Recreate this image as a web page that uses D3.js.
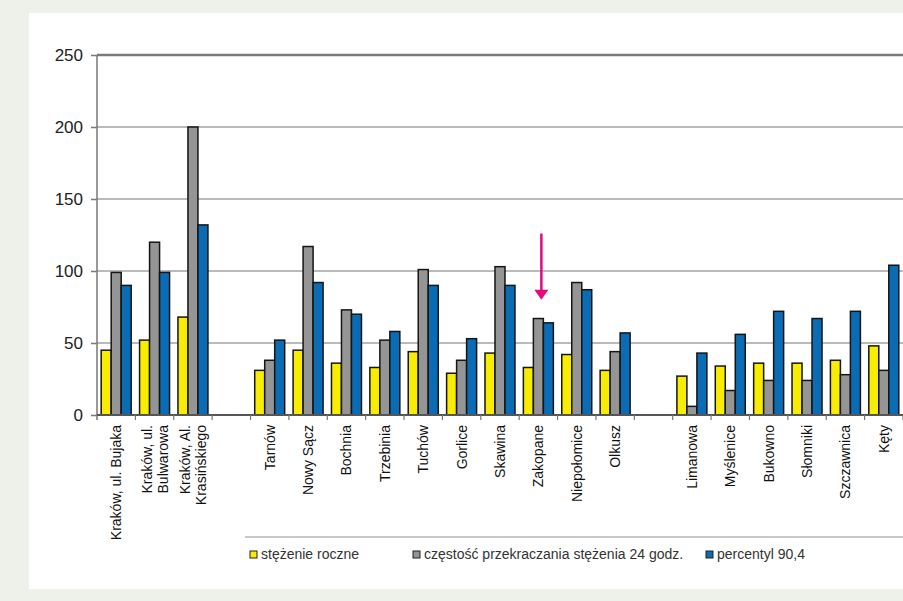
<!DOCTYPE html>
<html>
<head>
<meta charset="utf-8">
<script src="https://cdn.jsdelivr.net/npm/d3@7"></script>
<style>
  body { margin: 0; background: #eef0ea; }
  text { font-family: "Liberation Sans", Arial, sans-serif; }
</style>
</head>
<body>
<div id="chart"></div>
<script>
// stations, "" = empty slot between groups
var stations = ["Kraków, ul. Bujaka", "Kraków, ul.|Bulwarowa", "Kraków, Al.|Krasińskiego", "",
  "Tarnów", "Nowy Sącz", "Bochnia", "Trzebinia", "Tuchów", "Gorlice", "Skawina", "Zakopane",
  "Niepołomice", "Olkusz", "",
  "Limanowa", "Myślenice", "Bukowno", "Słomniki", "Szczawnica", "Kęty"];

var stezenieRoczne = [45, 52, 68, null, 31, 45, 36, 33, 44, 29, 43, 33, 42, 31, null, 27, 34, 36, 36, 38, 48];
var czestosc = [99, 120, 200, null, 38, 117, 73, 52, 101, 38, 103, 67, 92, 44, null, 6, 17, 24, 24, 28, 31];
var percentyl = [90, 99, 132, null, 52, 92, 70, 58, 90, 53, 90, 64, 87, 57, null, 43, 56, 72, 67, 72, 104];

var seriesNames = ["stężenie roczne", "częstość przekraczania stężenia 24 godz.", "percentyl 90,4"];
var seriesColors = ["#f8ec00", "#959595", "#0a6cb4"];
var yTicks = [0, 50, 100, 150, 200, 250];

var svgWidth = 903, svgHeight = 601;
var margin = { top: 55, left: 97, bottom: 186 };
var height = svgHeight - margin.top - margin.bottom;

var svg = d3.select("#chart").append("svg")
  .attr("width", svgWidth)
  .attr("height", svgHeight);

// white panel
svg.append("rect")
  .attr("x", 29).attr("y", 13)
  .attr("width", svgWidth - 29).attr("height", 576)
  .attr("fill", "#ffffff");

var xScale = d3.scaleBand()
  .domain(d3.range(stations.length))
  .range([margin.left, margin.left + stations.length * 38.38]);

var xInner = d3.scaleBand()
  .domain(d3.range(3))
  .range([0, xScale.bandwidth()])
  .paddingOuter(0.42)
  .paddingInner(0);

var yScale = d3.scaleLinear()
  .domain([0, 250])
  .range([margin.top + height, margin.top]);

// gridlines
svg.selectAll(".grid")
  .data(yTicks.filter(d => d > 0))
  .enter()
  .append("line")
  .attr("x1", margin.left)
  .attr("x2", svgWidth)
  .attr("y1", d => yScale(d))
  .attr("y2", d => yScale(d))
  .attr("stroke", d => d == 250 ? "#7a7a7a" : "#a3a3a3")
  .attr("stroke-width", d => d == 250 ? 2.5 : 1.5);

// y axis
var leftAxis = d3.axisLeft(yScale).tickValues(yTicks).tickSize(6).tickPadding(8);
var yAxis = svg.append("g")
  .attr("transform", `translate(${margin.left}, 0)`)
  .call(leftAxis);
yAxis.select(".domain").remove();
yAxis.selectAll("line").attr("stroke", "#777").attr("stroke-width", 1.5);
yAxis.selectAll("text")
  .attr("font-size", "17px")
  .attr("fill", "#222")
  .style("font-family", "'Liberation Sans Narrow', 'Liberation Sans', Arial, sans-serif");

svg.append("line")
  .attr("x1", margin.left).attr("x2", margin.left)
  .attr("y1", yScale(250)).attr("y2", yScale(0) + 5)
  .attr("stroke", "#777").attr("stroke-width", 1.5);

// bars
var allSeries = [stezenieRoczne, czestosc, percentyl];
allSeries.forEach(function(values, s) {
  svg.selectAll(".bar" + s)
    .data(values.map((v, i) => ({ i: i, v: v })).filter(d => d.v != null))
    .enter()
    .append("rect")
    .attr("x", d => xScale(d.i) + xInner(s))
    .attr("y", d => yScale(d.v))
    .attr("width", xInner.bandwidth())
    .attr("height", d => yScale(0) - yScale(d.v))
    .attr("fill", seriesColors[s])
    .attr("stroke", "#151515")
    .attr("stroke-width", 1.5);
});

// x axis
svg.append("line")
  .attr("x1", margin.left).attr("x2", svgWidth)
  .attr("y1", yScale(0)).attr("y2", yScale(0))
  .attr("stroke", "#555").attr("stroke-width", 2);

svg.selectAll(".xtick")
  .data(d3.range(1, stations.length + 1))
  .enter()
  .append("line")
  .attr("x1", d => margin.left + d * xScale.step())
  .attr("x2", d => margin.left + d * xScale.step())
  .attr("y1", yScale(0))
  .attr("y2", yScale(0) + 5)
  .attr("stroke", "#777").attr("stroke-width", 1.2);

// category labels, rotated
var labels = svg.selectAll(".xlabel")
  .data(stations.map((s, i) => ({ i: i, s: s })).filter(d => d.s != ""))
  .enter()
  .append("text")
  .attr("transform", d => `translate(${xScale(d.i) + xScale.bandwidth() / 2}, ${yScale(0) + 10}) rotate(-90)`)
  .attr("text-anchor", "end")
  .attr("font-size", "14px")
  .attr("fill", "#111");

labels.each(function(d) {
  var lines = d.s.split("|");
  var t = d3.select(this);
  lines.forEach(function(line, k) {
    t.append("tspan")
      .attr("x", 0)
      .attr("y", lines.length == 1 ? 5 : (k == 0 ? -3 : 13))
      .text(line);
  });
});

// arrow pointing at Zakopane
var ax = xScale(11) + xScale.bandwidth() / 2 + 3;
svg.append("line")
  .attr("x1", ax).attr("x2", ax)
  .attr("y1", yScale(126)).attr("y2", yScale(86))
  .attr("stroke", "#e4097f").attr("stroke-width", 2.5);
svg.append("path")
  .attr("d", `M${ax - 7},${yScale(87)} L${ax + 7},${yScale(87)} L${ax},${yScale(80)} Z`)
  .attr("fill", "#e4097f");

// legend
svg.append("line")
  .attr("x1", 245).attr("x2", svgWidth)
  .attr("y1", 537).attr("y2", 537)
  .attr("stroke", "#c8c8c8").attr("stroke-width", 2);

var legendX = [250, 413, 706];
var legend = svg.selectAll(".legend")
  .data(seriesNames)
  .enter()
  .append("g")
  .attr("transform", (d, i) => `translate(${legendX[i]}, 551)`);

legend.append("rect")
  .attr("width", 7).attr("height", 7)
  .attr("fill", (d, i) => seriesColors[i])
  .attr("stroke", "#222").attr("stroke-width", 1);

legend.append("text")
  .attr("x", 11)
  .attr("y", 8)
  .attr("font-size", "14px")
  .attr("fill", "#333")
  .text(d => d);
</script>
</body>
</html>
